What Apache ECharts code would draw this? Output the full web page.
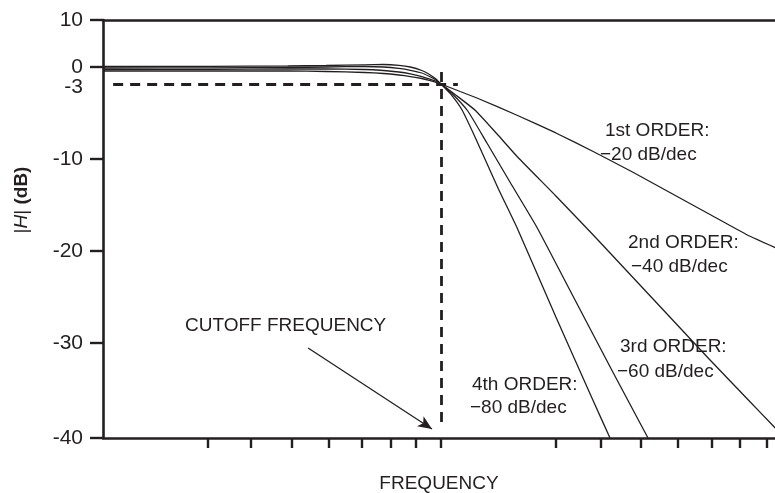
<!DOCTYPE html>
<html><head><meta charset="utf-8">
<script src="https://cdn.jsdelivr.net/npm/echarts@6/dist/echarts.min.js"></script>
<style>html,body{margin:0;padding:0;background:#fff}#c{width:775px;height:493px}</style>
</head><body><div id="c"></div>
<script>
// x values: log10(f / fc), in decades relative to the cutoff frequency
const order1X  = [-0.88,-0.6,-0.4,-0.3,-0.2,-0.15,-0.11,-0.08,-0.05,-0.03,-0.015,0,0.05,0.1,0.2,0.3,0.4,0.5,0.6,0.7,0.8,0.875];
const order1Db = [-0.71,-0.71,-0.71,-0.79,-0.97,-1.15,-1.41,-1.68,-2.03,-2.38,-2.65,-3,-3.70,-4.40,-5.94,-7.57,-9.35,-11.41,-13.70,-15.98,-18.26,-19.67];

const order2X  = [-0.88,-0.6,-0.4,-0.3,-0.2,-0.15,-0.11,-0.08,-0.05,-0.03,-0.015,0,0.04,0.09,0.15,0.2,0.3,0.4,0.5,0.6,0.7,0.8,0.875];
const order2Db = [-0.44,-0.41,-0.35,-0.35,-0.44,-0.62,-0.88,-1.2,-1.68,-2.12,-2.47,-3,-4.07,-5.47,-7.81,-9.81,-14.02,-18.37,-22.83,-27.28,-31.68,-35.89,-39.05];

const order3X  = [-0.88,-0.6,-0.4,-0.3,-0.2,-0.15,-0.11,-0.08,-0.05,-0.03,-0.015,0,0.03,0.07,0.12,0.18,0.25,0.35,0.45,0.5405];
const order3Db = [-0.18,-0.14,-0.09,0,0.11,0,-0.26,-0.58,-1.06,-1.68,-2.21,-3,-3.93,-5.52,-8.51,-12.5,-17.39,-25.33,-33.16,-40];

const order4X  = [-0.88,-0.6,-0.4,-0.3,-0.2,-0.15,-0.11,-0.08,-0.05,-0.03,-0.015,0,0.025,0.055,0.09,0.15,0.2,0.3,0.4,0.4413];
const order4Db = [0.11,0.15,0.21,0.32,0.47,0.53,0.36,0,-0.62,-1.32,-2.03,-3,-3.93,-5.43,-8.04,-13.26,-17.61,-27.17,-36.32,-40];

// schematic (non-linear) dB scale of the original figure: tick dB values and their axis positions
const yTickDb  = [10, 0, -3, -10, -20, -30, -40];
const yTickPos = [418, 371, 354, 279, 187, 95, 0];
// frequency-axis tick marks (decades from cutoff)
const xTickDec = [-0.609,-0.496,-0.390,-0.294,-0.207,-0.1305,-0.0653,0,0.2995,0.417,0.5214,0.617,0.7068,0.7807,0.8504];

const labels = [
  {t:'1st ORDER:', x:605, y:131}, {t:'\u221220 dB/dec', x:600, y:155},
  {t:'2nd ORDER:', x:628, y:243}, {t:'\u221240 dB/dec', x:631, y:267},
  {t:'3rd ORDER:', x:620, y:347}, {t:'\u221260 dB/dec', x:617, y:372},
  {t:'4th ORDER:', x:472, y:385}, {t:'\u221280 dB/dec', x:470, y:408},
  {t:'CUTOFF FREQUENCY', x:185, y:326}
];

function dbToAxis(db){
  for (let i=0;i<yTickDb.length-1;i++){
    const a=yTickDb[i], b=yTickDb[i+1];
    if (db<=a && db>=b){
      return yTickPos[i] + (db-a)/(b-a)*(yTickPos[i+1]-yTickPos[i]);
    }
  }
  if (db>yTickDb[0]) return yTickPos[0];
  return yTickPos[yTickPos.length-1];
}
const ink = '#231f20';
const FONT = '"Liberation Sans", Arial, Helvetica, sans-serif';
function mk(xs, ds){ return xs.map((x,i)=>[x, dbToAxis(ds[i])]); }
function curve(name, xs, ds, extra){
  return Object.assign({
    name, type:'line', data: mk(xs, ds), showSymbol:false, symbol:'none',
    smooth:0.15, silent:true,
    lineStyle:{color:ink, width:1.3}
  }, extra||{});
}
const chart = echarts.init(document.getElementById('c'), null, {renderer:'canvas'});
const xMin = -0.8825, xMax = 0.8721;
chart.setOption({
  animation:false,
  backgroundColor:'#fff',
  grid:{left:103, right:0, top:20, bottom:55, containLabel:false, outerBoundsMode:'none'},
  xAxis:[{
    type:'value', min:xMin, max:xMax, position:'bottom',
    name:'FREQUENCY', nameLocation:'middle', nameGap:36,
    nameTextStyle:{color:ink, fontSize:19, fontFamily:FONT},
    axisLine:{show:true, onZero:false, lineStyle:{color:ink, width:2.6}},
    axisTick:{show:true, inside:false, length:10, lineStyle:{color:ink, width:2.4}, customValues:xTickDec},
    axisLabel:{show:false},
    splitLine:{show:false}
  },{
    type:'value', min:xMin, max:xMax, position:'top',
    axisLine:{show:true, onZero:false, lineStyle:{color:ink, width:2.6}},
    axisTick:{show:false}, axisLabel:{show:false}, splitLine:{show:false}
  }],
  yAxis:{
    type:'value', min:0, max:418,
    axisLine:{show:true, onZero:false, lineStyle:{color:ink, width:2.6}},
    axisTick:{show:true, inside:false, length:13, lineStyle:{color:ink, width:2.4},
      customValues: yTickPos.filter((p,i)=>yTickDb[i]!==-3)},
    axisLabel:{
      show:true, margin:20, customValues:yTickPos, color:ink, fontSize:21, fontFamily:FONT,
      formatter:function(v){
        let idx=-1;
        yTickPos.forEach((p,i)=>{ if (Math.abs(p-v)<0.5) idx=i; });
        if (idx<0) return '';
        const d = yTickDb[idx];
        return d===-3 ? '{m|-3}' : String(d);
      },
      rich:{m:{fontSize:21, fontFamily:FONT, color:ink, padding:[7,0,0,0]}}
    },
    splitLine:{show:false}
  },
  series:[
    curve('1st order', order1X, order1Db, {
      markLine:{
        silent:true, symbol:['none','none'], label:{show:false}, animation:false,
        data:[
          [{coord:[-0.856, dbToAxis(-3)], lineStyle:{color:ink, width:2.8, type:[10,7]}}, {coord:[0.044, dbToAxis(-3)]}],
          [{coord:[0, 366], lineStyle:{color:ink, width:2.8, type:[10,7]}}, {coord:[0, 11]}],
          [{coord:[-0.347, 90], symbol:'none', lineStyle:{color:ink, width:1.3, type:'solid'}},
           {coord:[-0.0235, 9], symbol:'arrow', symbolSize:[9,14]}]
        ]
      }
    }),
    curve('2nd order', order2X, order2Db),
    curve('3rd order', order3X, order3Db),
    curve('4th order', order4X, order4Db)
  ],
  graphic: labels.map(l=>({
    type:'text', x:l.x, y:l.y, silent:true,
    style:{text:l.t, fill:ink, fontSize:19, fontFamily:FONT, textAlign:'left', textVerticalAlign:'middle'}
  })).concat([{
    type:'text', x:22, y:200, rotation:Math.PI/2, silent:true,
    style:{
      text:'{n||}{i|H}{n|| }{b|(dB)}', textAlign:'center', textVerticalAlign:'middle',
      rich:{
        n:{fontSize:19, fontFamily:FONT, fill:ink, color:ink},
        i:{fontSize:19, fontFamily:FONT, fontStyle:'italic', fill:ink, color:ink},
        b:{fontSize:19, fontFamily:FONT, fontWeight:'bold', fill:ink, color:ink}
      }
    }
  }])
});
</script></body></html>
